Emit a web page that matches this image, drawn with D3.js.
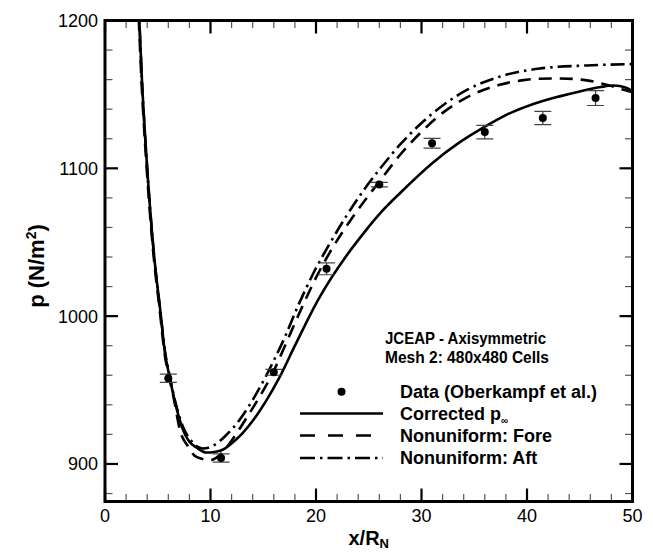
<!DOCTYPE html>
<html><head><meta charset="utf-8">
<script src="https://cdn.jsdelivr.net/npm/d3@7"></script>
<style>
body{margin:0;background:#fff}
svg{display:block}
text{font-family:"Liberation Sans",Arial,Helvetica,sans-serif;fill:#000}
</style>
</head><body>
<svg id="chart" width="653" height="554"></svg>
<script>
// ---- data ----
const xMajorTicks = [0, 10, 20, 30, 40, 50];
const yMajorTicks = [900, 1000, 1100, 1200];
const xMinorTicks = d3.range(0, 50.01, 2);
const yMinorTicks = d3.range(880, 1200.01, 20);

const dataX   = [6.0, 11.0, 16.0, 21.0, 26.0, 31.0, 36.0, 41.5, 46.5];
const dataP   = [958, 904, 962, 1032, 1089, 1117, 1124.5, 1134, 1147.5];
const dataErr = [2.8, 2.8, 2.0, 4.0, 1.5, 3.3, 4.6, 4.5, 5.0];

const correctedX = [3.0, 3.25, 3.5, 4.0, 4.6, 5.3, 5.65, 6.15, 6.7, 7.4, 8.0, 8.7, 9.6, 10.5, 11.2, 11.85, 13.0, 14.06, 15.3, 16.5, 18.0, 20.2, 22.9, 24.5, 26.07, 28.0, 31.1, 33.5, 35.85, 38.0, 40.6, 43.0, 45.0, 47.0, 48.2, 49.4, 50];
const correctedP = [1230, 1200, 1160, 1100, 1045, 1000, 977, 958, 940, 923, 915, 911, 907.7, 908.3, 909.8, 913, 920.5, 929.7, 943, 958, 980, 1011, 1041, 1056, 1069.5, 1083.5, 1104, 1117, 1127.5, 1136, 1143.5, 1148.5, 1152, 1155, 1156, 1154.5, 1152];

const foreX = [2.95, 3.2, 3.45, 3.95, 4.55, 5.25, 5.6, 6.1, 6.5, 7.1, 7.9, 8.5, 9.16, 9.8, 10.3, 10.8, 11.5, 12.5, 13.4, 14.7, 16, 17, 18.8, 20, 21.3, 22.9, 24.5, 26, 27.96, 29.9, 32.1, 34.3, 37.4, 39.5, 41.2, 43.1, 45.65, 47.55, 49, 50];
const foreP = [1230, 1200, 1160, 1100, 1045, 1000, 977, 958, 945, 923, 911.5, 905.5, 903.5, 902.5, 903.2, 905.5, 911, 921, 931, 946, 963, 979, 1008, 1026, 1043, 1061, 1077, 1091, 1109, 1124, 1138, 1148, 1156.5, 1159.5, 1160.6, 1160.8, 1159.5, 1156.5, 1153.5, 1151.5];

const aftX = [3.0, 3.25, 3.5, 4.0, 4.6, 5.3, 5.65, 6.15, 6.7, 7.4, 8.2, 8.8, 9.3, 10, 10.8, 11.5, 12.5, 13.4, 14.7, 16, 17, 18.3, 19.75, 21.3, 22.9, 24.5, 26.1, 27.96, 29.9, 32.1, 34.3, 37.4, 41.2, 45.65, 50];
const aftP = [1230, 1200, 1160, 1100, 1045, 1000, 978, 959, 941, 925, 915.5, 911.5, 910.5, 911.5, 915, 919.6, 927.5, 936.5, 952, 970, 985, 1007, 1029, 1049, 1068, 1085, 1100, 1116, 1130, 1143, 1153, 1162, 1167.5, 1169.6, 1170.5];

const legendLabels = ["Data (Oberkampf et al.)", "Corrected p", "Nonuniform: Fore", "Nonuniform: Aft"];
const headerLines = ["JCEAP - Axisymmetric", "Mesh 2: 480x480 Cells"];

// ---- layout ----
const L = 105, R = 632.5, T = 20.5, B = 501.5;
const x = d3.scaleLinear().domain([0, 50]).range([L, R]);
const y = d3.scaleLinear().domain([874.6, 1200]).range([B, T]);

const svg = d3.select("#chart");
svg.append("defs").append("clipPath").attr("id", "clip")
  .append("rect").attr("x", L).attr("y", T).attr("width", R - L).attr("height", B - T);

// ticks (inward on all four sides)
const g = svg.append("g");
function minorStyle(sel){ sel.attr("stroke", "#555").attr("stroke-width", 1.2); }
xMinorTicks.filter(v => !xMajorTicks.includes(v)).forEach(v => {
  g.append("line").attr("x1", x(v)).attr("x2", x(v)).attr("y1", B).attr("y2", B - 7.5).call(minorStyle);
  g.append("line").attr("x1", x(v)).attr("x2", x(v)).attr("y1", T).attr("y2", T + 7.5).call(minorStyle);
});
yMinorTicks.filter(v => !yMajorTicks.includes(v)).forEach(v => {
  g.append("line").attr("y1", y(v)).attr("y2", y(v)).attr("x1", L).attr("x2", L + 7.5).call(minorStyle);
  g.append("line").attr("y1", y(v)).attr("y2", y(v)).attr("x1", R).attr("x2", R - 7.5).call(minorStyle);
});
xMajorTicks.forEach(v => {
  g.append("line").attr("x1", x(v)).attr("x2", x(v)).attr("y1", B).attr("y2", B - 13).attr("stroke", "#000").attr("stroke-width", 2.2);
  g.append("line").attr("x1", x(v)).attr("x2", x(v)).attr("y1", T).attr("y2", T + 13).attr("stroke", "#000").attr("stroke-width", 2.2);
  g.append("text").attr("x", x(v)).attr("y", B + 20.5).attr("text-anchor", "middle").attr("font-size", 18).text(v);
});
yMajorTicks.forEach(v => {
  g.append("line").attr("y1", y(v)).attr("y2", y(v)).attr("x1", L).attr("x2", L + 13).attr("stroke", "#000").attr("stroke-width", 2.2);
  g.append("line").attr("y1", y(v)).attr("y2", y(v)).attr("x1", R).attr("x2", R - 13).attr("stroke", "#000").attr("stroke-width", 2.2);
  g.append("text").attr("x", L - 7).attr("y", y(v) + 6.5).attr("text-anchor", "end").attr("font-size", 18).text(v);
});

// curves
const line = d3.line().x(d => x(d[0])).y(d => y(d[1])).curve(d3.curveMonotoneX);
const plot = svg.append("g").attr("clip-path", "url(#clip)");
plot.append("path").datum(d3.zip(correctedX, correctedP)).attr("d", line)
  .attr("fill", "none").attr("stroke", "#000").attr("stroke-width", 2.6);
plot.append("path").datum(d3.zip(foreX, foreP)).attr("d", line)
  .attr("fill", "none").attr("stroke", "#000").attr("stroke-width", 2.6).attr("stroke-dasharray", "13,8");
plot.append("path").datum(d3.zip(aftX, aftP)).attr("d", line)
  .attr("fill", "none").attr("stroke", "#000").attr("stroke-width", 2.6).attr("stroke-dasharray", "14,5,2.5,5");

// data with error bars
const pts = plot.append("g");
dataX.forEach((dx, i) => {
  const cx = x(dx), lo = y(dataP[i] - dataErr[i]), hi = y(dataP[i] + dataErr[i]);
  pts.append("line").attr("x1", cx).attr("x2", cx).attr("y1", lo).attr("y2", hi).attr("stroke", "#333").attr("stroke-width", 1.2);
  pts.append("line").attr("x1", cx - 8.5).attr("x2", cx + 8.5).attr("y1", lo).attr("y2", lo).attr("stroke", "#444").attr("stroke-width", 1.2);
  pts.append("line").attr("x1", cx - 8.5).attr("x2", cx + 8.5).attr("y1", hi).attr("y2", hi).attr("stroke", "#444").attr("stroke-width", 1.2);
  pts.append("circle").attr("cx", cx).attr("cy", y(dataP[i])).attr("r", 4).attr("fill", "#000");
});

// frame
svg.append("rect").attr("x", L).attr("y", T).attr("width", R - L).attr("height", B - T)
  .attr("fill", "none").attr("stroke", "#000").attr("stroke-width", 3);

// axis titles
const xt = svg.append("text").attr("x", (L + R) / 2).attr("y", 545).attr("text-anchor", "middle")
  .attr("font-size", 20).attr("font-weight", "bold");
xt.append("tspan").text("x/R");
xt.append("tspan").attr("font-size", 13).attr("dy", 3).text("N");

const yt = svg.append("text").attr("transform", `translate(44,266) rotate(-90)`)
  .attr("text-anchor", "middle").attr("font-size", 22).attr("font-weight", "bold");
yt.append("tspan").text("p (N/m");
yt.append("tspan").attr("font-size", 14).attr("dy", -8).text("2");
yt.append("tspan").attr("dy", 8).text(")");

// legend
const lg = svg.append("g");
const headerWidths = [161, 164];
headerLines.forEach((t, i) => {
  lg.append("text").attr("x", 385).attr("y", 344 + i * 19).attr("font-size", 17).attr("font-weight", "bold")
    .attr("textLength", headerWidths[i]).attr("lengthAdjust", "spacingAndGlyphs").text(t);
});
const rowY = [391.7, 413.5, 435.5, 458];
const lx1 = 300, lx2 = 383;
lg.append("circle").attr("cx", (lx1 + lx2) / 2).attr("cy", rowY[0]).attr("r", 4).attr("fill", "#000");
lg.append("line").attr("x1", lx1).attr("x2", lx2).attr("y1", rowY[1]).attr("y2", rowY[1]).attr("stroke", "#000").attr("stroke-width", 2.6);
lg.append("line").attr("x1", lx1).attr("x2", lx2).attr("y1", rowY[2]).attr("y2", rowY[2]).attr("stroke", "#000").attr("stroke-width", 2.6).attr("stroke-dasharray", "15,13");
lg.append("line").attr("x1", lx1).attr("x2", lx2).attr("y1", rowY[3]).attr("y2", rowY[3]).attr("stroke", "#000").attr("stroke-width", 2.6).attr("stroke-dasharray", "15,5,2.5,5");
legendLabels.forEach((t, i) => {
  const tx = lg.append("text").attr("x", 400).attr("y", rowY[i] + 6).attr("font-size", 18).attr("font-weight", "bold");
  tx.append("tspan").text(t);
  if (i === 1) tx.append("tspan").attr("font-size", 10).attr("dy", 4).text("\u221E");
});
</script>
</body></html>
